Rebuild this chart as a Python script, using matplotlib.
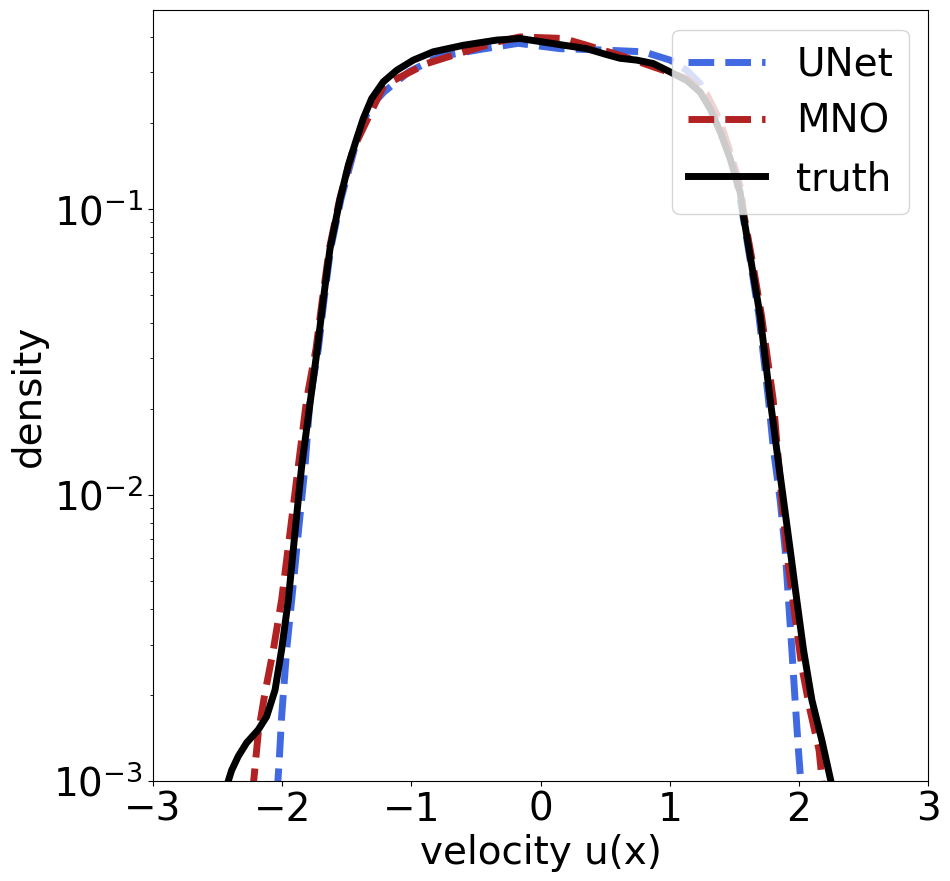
#Density of velocity u(x): UNet and MNO predictions against the truth
import matplotlib
matplotlib.use("Agg")
import matplotlib.pyplot as plt

# values
unet_x = [-2.04, -2.024, -2.004, -1.965, -1.926, -1.875, -1.823, -1.784, -1.72,
          -1.675, -1.625, -1.545, -1.44, -1.33, -1.213, -1.02, -0.789, -0.494,
          -0.173, 0.151, 0.486, 0.796, 1.003, 1.132, 1.235, 1.312, 1.39, 1.49,
          1.55, 1.63, 1.69, 1.764, 1.803, 1.854, 1.893, 1.919, 1.945, 1.97,
          1.996, 2.014, 2.02]
unet_y = [0.0009, 0.00115, 0.00168, 0.00288, 0.0043, 0.00737, 0.0126, 0.0216,
          0.0324, 0.0484, 0.0724, 0.108, 0.162, 0.224, 0.256, 0.301, 0.340,
          0.359, 0.379, 0.363, 0.359, 0.354, 0.331, 0.305, 0.274, 0.236, 0.191,
          0.146, 0.105, 0.0632, 0.0424, 0.0216, 0.0144, 0.00964, 0.00644,
          0.0043, 0.00288, 0.00192, 0.00128, 0.001, 0.0009]

mno_x = [-2.23, -2.21, -2.185, -2.133, -2.068, -2.004, -1.939, -1.875, -1.81,
         -1.738, -1.688, -1.635, -1.555, -1.45, -1.213, -0.881, -0.635, -0.327,
         -0.159, 0.177, 0.357, 0.615, 0.951, 1.132, 1.287, 1.39, 1.467, 1.545,
         1.575, 1.645, 1.71, 1.80, 1.867, 1.919, 1.97, 2.022, 2.086, 2.156,
         2.177, 2.19]
mno_y = [0.0009, 0.00112, 0.00147, 0.00203, 0.00288, 0.0043, 0.00737, 0.0126,
         0.0216, 0.0324, 0.0484, 0.0724, 0.108, 0.162, 0.270, 0.322, 0.349,
         0.384, 0.399, 0.394, 0.373, 0.344, 0.305, 0.285, 0.251, 0.202, 0.158,
         0.120, 0.0948, 0.0632, 0.0424, 0.0216, 0.00964, 0.00563, 0.00376,
         0.00251, 0.00177, 0.00128, 0.00103, 0.0009]

truth_x = [-2.45, -2.417, -2.391, -2.34, -2.275, -2.185, -2.12, -2.055, -2.004,
           -1.952, -1.901, -1.849, -1.78, -1.728, -1.681, -1.63, -1.552, -1.488,
           -1.423, -1.372, -1.307, -1.217, -1.113, -0.985, -0.83, -0.598, -0.339,
           -0.159, 0.099, 0.357, 0.512, 0.615, 0.745, 0.873, 1.003, 1.132, 1.235,
           1.312, 1.39, 1.467, 1.545, 1.57, 1.635, 1.699, 1.777, 1.828, 1.88,
           1.932, 1.983, 2.035, 2.1, 2.177, 2.247, 2.27]
truth_y = [0.00088, 0.001, 0.00109, 0.00122, 0.00136, 0.00151, 0.00168, 0.00208,
           0.00288, 0.0043, 0.00737, 0.0126, 0.0216, 0.0324, 0.0484, 0.0724,
           0.108, 0.142, 0.176, 0.207, 0.243, 0.278, 0.305, 0.331, 0.354, 0.373,
           0.389, 0.394, 0.378, 0.363, 0.346, 0.336, 0.331, 0.322, 0.301, 0.281,
           0.256, 0.224, 0.186, 0.150, 0.114, 0.0948, 0.0632, 0.0424, 0.0216,
           0.0144, 0.00964, 0.00644, 0.0043, 0.00288, 0.00192, 0.00139, 0.001,
           0.0009]

plt.rcParams['font.size'] = 28

fig = plt.figure(figsize=(9.5, 8.81), dpi=100)
ax = fig.add_axes([0.161, 0.1135, 0.816, 0.875])

ax.semilogy(unet_x, unet_y, '--', color='royalblue', lw=5, label='UNet')
ax.semilogy(mno_x, mno_y, '--', color='firebrick', lw=5, label='MNO')
ax.semilogy(truth_x, truth_y, '-', color='black', lw=5, label='truth')

ax.set_xlim(-3, 3)
ax.set_ylim(1e-3, 0.495)
ax.set_xlabel('velocity u(x)')
ax.set_ylabel('density')
ax.legend(loc='upper right')

fig.savefig('out.png', dpi=100)
